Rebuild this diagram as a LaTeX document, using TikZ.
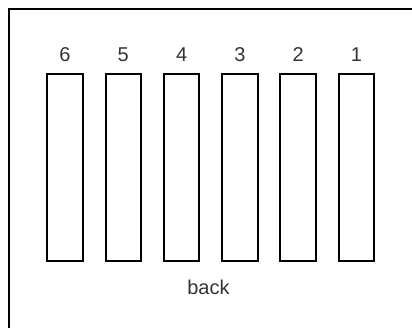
\documentclass[tikz,border=0pt]{standalone}
\usepackage{fontspec}
\setmainfont{Liberation Sans}
\usetikzlibrary{positioning}

\begin{document}
\begin{tikzpicture}[
  x=1pt, y=-1pt,
  slot/.style={draw, line width=2pt, minimum width=35.5pt, minimum height=187pt, inner sep=0pt},
  num/.style={anchor=base, font=\fontsize{20}{22}\selectfont, text=black!80}
]
\useasboundingbox (0,0) rectangle (412,328);
% outer frame, cut off at the right and bottom
\draw[line width=2.3pt] (9,360) -- (9,9) -- (440,9);
\foreach \i/\n in {0/6,1/5,2/4,3/3,4/2,5/1} {
  \node[slot] (slot\n) at ({65+58.3*\i},167.5) {};
  \node[num] (lab\n) at ({65+58.3*\i},62) {\n};
}
\node[num] (back) at (208.5,295) {back};
\end{tikzpicture}
\end{document}
